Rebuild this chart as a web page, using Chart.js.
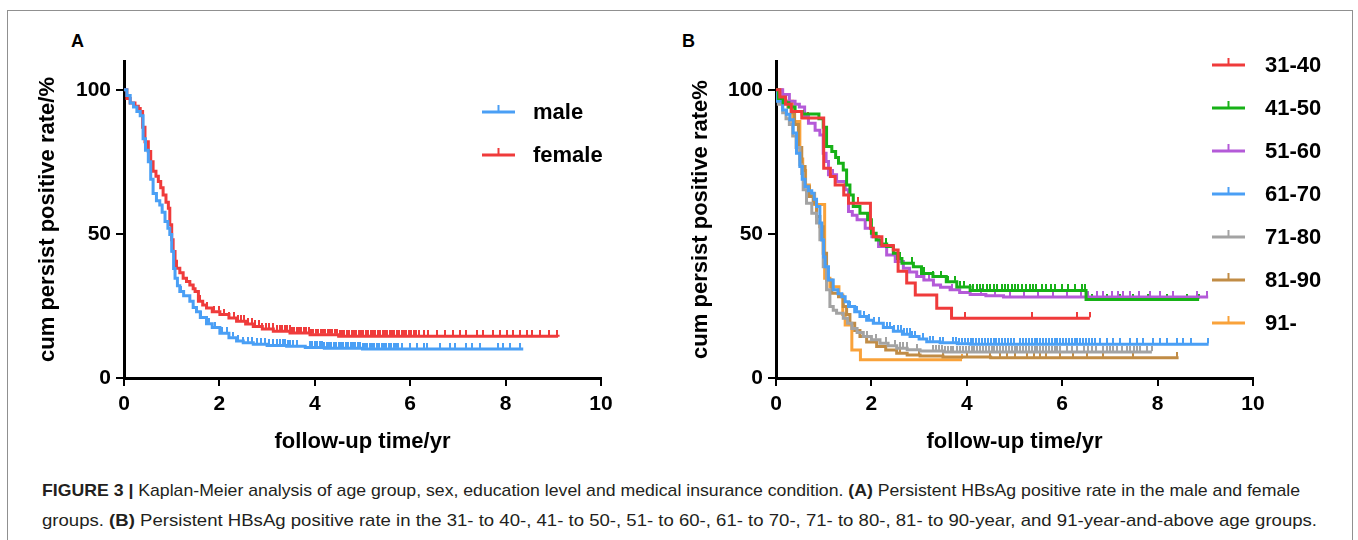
<!DOCTYPE html>
<html>
<head>
<meta charset="utf-8">
<script src="https://cdn.jsdelivr.net/npm/chart.js@4.4.1/dist/chart.umd.min.js"></script>
<style>
  html, body { margin: 0; padding: 0; background: #fff; }
  body { width: 1358px; height: 540px; position: relative; overflow: hidden; font-family: 'Liberation Sans', Arial, sans-serif; }
  #frame { position: absolute; left: 7px; top: 10px; width: 1346px; height: 540px; border: 1.5px solid #909090; box-sizing: border-box; }
  canvas { position: absolute; top: 0; }
  .panel { position: absolute; font-weight: bold; font-size: 18px; color: #000; }
  .cap { position: absolute; left: 42px; white-space: nowrap; font-family: 'Liberation Sans Narrow', 'Liberation Sans', Arial, sans-serif; font-size: 17px; color: #231f20; transform-origin: 0 50%; }
</style>
</head>
<body>
<div id="frame"></div>
<div class="panel" style="left:71px; top:31px">A</div>
<div class="panel" style="left:682px; top:31px">B</div>
<canvas id="chartA" width="680" height="470" style="left:0"></canvas>
<canvas id="chartB" width="678" height="470" style="left:680px"></canvas>
<div class="cap" id="cap1" style="top:481px"><b>FIGURE 3 |</b> Kaplan-Meier analysis of age group, sex, education level and medical insurance condition. <b>(A)</b> Persistent HBsAg positive rate in the male and female</div>
<div class="cap" id="cap2" style="top:511px">groups. <b>(B)</b> Persistent HBsAg positive rate in the 31- to 40-, 41- to 50-, 51- to 60-, 61- to 70-, 71- to 80-, 81- to 90-year, and 91-year-and-above age groups.</div>
<script>
const FONT = "'Liberation Sans', Arial, sans-serif";

// ---- panel A: sex ----
const maleTime = [0, 0.06, 0.13, 0.2, 0.27, 0.34, 0.4, 0.45, 0.51, 0.56, 0.61, 0.68, 0.75, 0.8, 0.86, 0.92, 0.96, 1.0, 1.04, 1.07, 1.12, 1.17, 1.25, 1.38, 1.45, 1.52, 1.6, 1.73, 1.85, 2.01, 2.2, 2.36, 2.5, 2.71, 3.0, 3.41, 3.8, 4.2, 5.0, 8.37];
const maleRate = [100, 98, 95.4, 94, 92.5, 91, 83, 79, 75, 69, 64, 61.5, 60, 57.5, 54.3, 52, 49.8, 44, 38, 34.6, 32, 30, 28.5, 26.6, 24.5, 23, 21, 18.8, 17.5, 15.5, 14, 12.8, 12.2, 11.7, 11.3, 11, 10.6, 10.3, 10.1, 10.1];
const maleCensor = [1.2, 1.45, 1.62, 1.78, 1.9, 2.05, 2.15, 2.28, 2.4, 2.5, 2.6, 2.68, 2.78, 2.88, 2.95, 3.05, 3.12, 3.2, 3.28, 3.33, 3.38, 3.43, 3.48, 3.55, 3.62, 3.9, 3.95, 4.0, 4.05, 4.1, 4.15, 4.2, 4.25, 4.3, 4.35, 4.4, 4.45, 4.5, 4.55, 4.6, 4.65, 4.7, 4.75, 4.8, 4.85, 4.9, 4.95, 5.0, 5.05, 5.1, 5.15, 5.2, 5.25, 5.3, 5.35, 5.4, 5.45, 5.5, 5.55, 5.6, 5.65, 5.7, 5.75, 5.82, 5.99, 6.14, 6.28, 6.35, 6.62, 6.83, 6.94, 7.18, 7.29, 7.46, 7.84, 7.95, 8.09, 8.3];

const femaleTime = [0, 0.06, 0.13, 0.23, 0.3, 0.34, 0.39, 0.44, 0.51, 0.56, 0.61, 0.67, 0.72, 0.77, 0.82, 0.88, 0.93, 0.96, 1.0, 1.03, 1.07, 1.1, 1.17, 1.24, 1.31, 1.38, 1.45, 1.49, 1.56, 1.65, 1.73, 1.85, 2.01, 2.2, 2.36, 2.55, 2.71, 2.9, 3.13, 3.48, 3.9, 4.5, 9.1];
const femaleRate = [100, 97, 95.4, 94.3, 93.5, 92.5, 87, 82, 78.6, 75, 71.7, 70, 68.2, 66, 63.5, 61, 58.9, 53.2, 48, 43.9, 40.5, 38.1, 36.5, 34.6, 33.5, 32.3, 31, 30, 26.6, 25.3, 24.3, 23, 22, 20.8, 19.7, 18.7, 17.9, 17, 16.2, 15.6, 15, 14.5, 14.3];
const femaleCensor = [1.6, 1.75, 1.88, 2.0, 2.1, 2.2, 2.3, 2.38, 2.45, 2.52, 2.6, 2.68, 2.75, 2.82, 2.9, 2.98, 3.05, 3.12, 3.2, 3.27, 3.32, 3.37, 3.42, 3.47, 3.52, 3.57, 3.62, 3.67, 3.72, 3.77, 3.82, 3.87, 3.92, 3.97, 4.02, 4.07, 4.12, 4.17, 4.22, 4.27, 4.32, 4.37, 4.42, 4.47, 4.52, 4.57, 4.62, 4.67, 4.72, 4.77, 4.82, 4.87, 4.92, 4.97, 5.02, 5.07, 5.12, 5.17, 5.22, 5.27, 5.32, 5.37, 5.42, 5.47, 5.52, 5.57, 5.62, 5.67, 5.72, 5.77, 5.82, 5.87, 5.92, 5.97, 6.02, 6.07, 6.12, 6.18, 6.28, 6.38, 6.56, 6.73, 6.9, 7.04, 7.18, 7.39, 7.53, 7.74, 7.88, 8.02, 8.16, 8.3, 8.44, 8.55, 8.72, 8.9, 9.07];

// ---- panel B: age groups ----
const ageLabels = ['31-40', '41-50', '51-60', '61-70', '71-80', '81-90', '91-'];
const ageColors = ['#ef3b3b', '#17b117', '#b45ad8', '#4a9ff5', '#a3a3a3', '#c18c45', '#f9a23a'];

const t3140 = [0, 0.08, 0.2, 0.32, 0.54, 1.0, 1.14, 1.24, 1.42, 1.52, 1.98, 2.04, 2.22, 2.46, 2.56, 2.74, 2.92, 3.37, 3.68, 6.58];
const r3140 = [100, 97.5, 95, 92.5, 90.2, 72.8, 69.9, 67, 63.5, 60.6, 52, 49, 46, 44.4, 37, 33, 28.8, 24.2, 20.7, 20.7];
const c3140 = [0.67, 1.62, 1.72, 3.96, 5.36, 6.3, 6.58];

const t4150 = [0, 0.05, 0.15, 0.27, 0.4, 0.55, 0.9, 0.99, 1.06, 1.17, 1.25, 1.31, 1.41, 1.48, 1.55, 1.62, 1.76, 1.92, 2.0, 2.1, 2.2, 2.32, 2.46, 2.55, 2.64, 2.88, 3.05, 3.29, 3.57, 3.79, 4.07, 6.5, 8.87];
const r4150 = [100, 97, 95.5, 94, 92.5, 91.6, 90, 87, 80.3, 78.6, 76.5, 74.5, 72.2, 67, 63.5, 59.5, 57.2, 54.9, 50.2, 47.9, 46.5, 45.6, 43.3, 41.5, 39.8, 38.6, 36.3, 35.2, 33.4, 31.6, 30.4, 27.2, 27.2];
const c4150 = [2.3, 2.6, 2.85, 3.1, 3.3, 3.45, 3.6, 3.75, 3.85, 3.95, 4.07, 4.14, 4.21, 4.28, 4.35, 4.42, 4.49, 4.56, 4.63, 4.73, 4.8, 4.87, 4.94, 5.01, 5.08, 5.15, 5.25, 5.32, 5.39, 5.46, 5.57, 5.67, 5.76, 5.85, 5.99, 6.13, 6.27, 6.41, 6.47, 6.62, 6.93, 7.21, 7.49, 7.8, 8.19, 8.61, 8.87];

const t5160 = [0, 0.14, 0.28, 0.4, 0.49, 0.6, 0.68, 0.82, 0.92, 0.99, 1.05, 1.1, 1.27, 1.45, 1.52, 1.6, 1.7, 1.87, 2.01, 2.15, 2.32, 2.5, 2.67, 2.8, 2.95, 3.1, 3.3, 3.45, 3.65, 3.85, 4.07, 4.4, 4.77, 9.06];
const r5160 = [100, 98.4, 96, 95, 94, 91, 88.4, 86, 84.3, 78, 75.1, 70.5, 68.2, 65.3, 57.8, 56.5, 54.9, 52, 49, 45.6, 42.7, 40.4, 38.1, 36.8, 35.2, 34, 32.3, 31.5, 30.6, 29.7, 29, 28.5, 28.1, 28.1];
const c5160 = [1.2, 2.6, 3.2, 3.7, 4.3, 4.6, 4.9, 5.2, 5.5, 5.8, 6.1, 6.4, 6.55, 6.72, 6.86, 7.04, 7.18, 7.28, 7.42, 7.6, 7.84, 8.05, 8.33, 8.82, 9.03];

const t6170 = [0, 0.02, 0.14, 0.22, 0.29, 0.36, 0.43, 0.5, 0.55, 0.61, 0.68, 0.75, 0.8, 0.85, 0.92, 0.96, 1.0, 1.03, 1.1, 1.2, 1.3, 1.38, 1.45, 1.52, 1.65, 1.76, 1.9, 2.04, 2.25, 2.46, 2.65, 2.81, 3.0, 3.16, 3.44, 3.8, 4.07, 9.07];
const r6170 = [100, 96, 93, 91.5, 89.6, 85, 78, 73.4, 69, 66.4, 65, 64.1, 62, 59.5, 53.8, 47.9, 42, 38.6, 34, 30.6, 29.2, 28.2, 26.5, 24.8, 23, 21.3, 20, 19, 17.5, 16.2, 15.2, 14.4, 13.5, 12.6, 12.2, 11.9, 11.7, 11.7];
const c6170 = [1.55, 1.7, 1.85, 1.95, 2.05, 2.15, 2.25, 2.32, 2.4, 2.48, 2.55, 2.62, 2.68, 2.74, 2.8, 2.86, 2.92, 3.09, 3.23, 3.3, 3.44, 3.51, 3.72, 3.78, 3.84, 3.9, 3.96, 4.02, 4.08, 4.14, 4.2, 4.26, 4.32, 4.38, 4.44, 4.5, 4.56, 4.62, 4.68, 4.74, 4.8, 4.86, 4.92, 4.98, 5.12, 5.18, 5.24, 5.3, 5.36, 5.42, 5.48, 5.54, 5.6, 5.66, 5.72, 5.78, 5.84, 5.9, 5.96, 6.02, 6.08, 6.14, 6.2, 6.26, 6.32, 6.38, 6.44, 6.5, 6.56, 6.62, 6.68, 6.79, 6.93, 7.07, 7.21, 7.42, 7.56, 7.7, 7.91, 8.05, 8.19, 8.4, 8.54, 8.71, 9.06];

const t7180 = [0, 0.05, 0.14, 0.21, 0.28, 0.35, 0.42, 0.5, 0.54, 0.57, 0.64, 0.75, 0.85, 0.92, 0.99, 1.06, 1.13, 1.2, 1.27, 1.41, 1.5, 1.59, 1.7, 1.83, 2.0, 2.18, 2.35, 2.53, 2.75, 3.02, 3.51, 7.88];
const r7180 = [100, 95, 92, 90, 88, 84, 80, 74, 71, 65.3, 60.6, 57.2, 53.8, 48, 38.6, 30.6, 24.8, 23.5, 22.5, 20.7, 19, 17.2, 15.8, 14.4, 13.3, 12.1, 11.2, 10.3, 9.8, 9.4, 9.0, 9.0];
const c7180 = [1.9, 2.1, 2.3, 2.5, 2.6, 2.67, 2.74, 2.95, 3.3, 3.36, 3.42, 3.48, 3.54, 3.6, 3.66, 3.72, 3.8, 3.86, 3.92, 3.98, 4.04, 4.1, 4.16, 4.22, 4.28, 4.34, 4.4, 4.46, 4.52, 4.58, 4.64, 4.7, 4.76, 4.82, 4.88, 4.94, 5.0, 5.06, 5.12, 5.18, 5.24, 5.3, 5.36, 5.42, 5.48, 5.54, 5.6, 5.66, 5.72, 5.78, 5.84, 5.9, 5.96, 6.1, 6.2, 6.3, 6.45, 6.55, 6.62, 6.7, 6.85, 6.93, 7.0, 7.07, 7.15, 7.25, 7.35, 7.42, 7.5, 7.56, 7.63, 7.77, 7.88];

const t8190 = [0, 0.05, 0.14, 0.25, 0.32, 0.39, 0.47, 0.54, 0.61, 0.7, 0.78, 0.85, 0.92, 0.99, 1.06, 1.17, 1.31, 1.41, 1.48, 1.55, 1.65, 1.76, 1.9, 2.11, 2.3, 2.53, 2.75, 3.02, 3.5, 4.5, 8.44];
const r8190 = [100, 97, 96, 94, 92, 88, 80, 73.4, 66.4, 63, 60.6, 56, 52.5, 43.3, 34, 29.4, 28.2, 24.8, 22, 19, 16.5, 14.4, 12.5, 10.9, 9.7, 8.6, 8, 7.6, 7.3, 7.0, 7.0];
const c8190 = [2.6, 3.0, 3.5, 4.0, 4.49, 4.7, 4.84, 5.01, 5.26, 5.4, 5.54, 5.67, 5.95, 6.23, 6.51, 6.86, 7.49, 8.4];

const t91 = [0, 0.12, 0.35, 0.5, 0.56, 0.62, 0.7, 0.81, 1.02, 1.13, 1.32, 1.4, 1.45, 1.59, 1.77, 3.9];
const r91 = [100, 96, 89, 76, 72, 67, 64, 60.2, 34.6, 31.7, 28.8, 22, 18.4, 9.7, 6.3, 6.3];
const c91 = [3.9];

// value of the step curve at time t (censor marks sit on the curve)
function stepAt(times, rates, t) {
  let v = rates[0];
  for (let i = 0; i < times.length; i++) {
    if (times[i] <= t) v = rates[i]; else break;
  }
  return v;
}

// small upward tick used as the censor mark
function tickImage(color) {
  const c = document.createElement('canvas');
  c.width = 2; c.height = 12;
  const g = c.getContext('2d');
  g.fillStyle = color;
  g.fillRect(0, 0, 2, 5);
  return c;
}

function kmSeries(label, color, times, rates, censor) {
  const curve = {
    label, km: true,
    data: times.map((t, i) => ({ x: t, y: rates[i] })),
    borderColor: color, borderWidth: 3, stepped: true,
    pointRadius: 0, fill: false
  };
  const marks = {
    label: label + ' censored',
    data: censor.map(t => ({ x: t, y: stepAt(times, rates, t) })),
    showLine: false, pointStyle: tickImage(color), pointRadius: 3,
    borderColor: color, backgroundColor: color
  };
  return [curve, marks];
}

const kmLegend = {
  id: 'kmLegend',
  afterDraw(chart, args, o) {
    const ctx = chart.ctx;
    const sets = chart.data.datasets.filter(d => d.km);
    ctx.save();
    ctx.font = 'bold 22px ' + FONT;
    ctx.textBaseline = 'middle';
    sets.forEach((d, i) => {
      const y = o.y + i * o.gap;
      ctx.strokeStyle = d.borderColor;
      ctx.lineWidth = 3;
      ctx.beginPath();
      ctx.moveTo(o.x, y); ctx.lineTo(o.x + o.len, y);
      ctx.stroke();
      ctx.lineWidth = 2;
      ctx.beginPath();
      ctx.moveTo(o.x + o.len / 2, y); ctx.lineTo(o.x + o.len / 2, y - 7);
      ctx.stroke();
      ctx.fillStyle = '#000';
      ctx.fillText(d.label, o.textX, y + 1);
    });
    ctx.restore();
  }
};

function axisFont(size) {
  return { family: FONT, size, weight: 'bold' };
}

function makeChart(id, datasets, yTitle, lay) {
  return new Chart(document.getElementById(id), {
    type: 'line',
    data: { datasets },
    options: {
      responsive: false,
      animation: false,
      layout: { padding: { left: 0, top: 61, right: lay.right, bottom: 0 } },
      plugins: { legend: { display: false }, tooltip: { enabled: false }, kmLegend: lay.legend },
      scales: {
        x: {
          type: 'linear', min: 0, max: 10,
          ticks: { stepSize: 2, color: '#000', font: axisFont(21), padding: 6, maxRotation: 0 },
          grid: { drawOnChartArea: false, color: '#000', lineWidth: 2, tickLength: 8 },
          border: { color: '#000', width: 3 },
          title: { display: true, text: 'follow-up time/yr', color: '#000', font: axisFont(22), padding: { top: 0, bottom: 15 } },
          afterFit: s => { s.height = 92; }
        },
        y: {
          type: 'linear', min: 0, max: 110,
          ticks: { stepSize: 50, includeBounds: false, color: '#000', font: axisFont(21), padding: 5 },
          grid: { drawOnChartArea: false, color: '#000', lineWidth: 2, tickLength: 8 },
          border: { color: '#000', width: 3 },
          title: { display: true, text: yTitle, color: '#000', font: axisFont(22), padding: { top: lay.yTitlePad, bottom: 0 } },
          afterFit: s => { s.width = lay.yWidth; }
        }
      }
    },
    plugins: [kmLegend]
  });
}

const setsA = [
  ...kmSeries('male', '#4a9ff5', maleTime, maleRate, maleCensor),
  ...kmSeries('female', '#ef3b3b', femaleTime, femaleRate, femaleCensor)
];
makeChart('chartA', [...setsA.filter(d => d.km), ...setsA.filter(d => !d.km)],
  'cum persist positive rate/%',
  { right: 79, yWidth: 124, yTitlePad: 35, legend: { x: 482, y: 112, gap: 43, len: 33, textX: 533 } });

const ageTimes = [t3140, t4150, t5160, t6170, t7180, t8190, t91];
const ageRates = [r3140, r4150, r5160, r6170, r7180, r8190, r91];
const ageCensor = [c3140, c4150, c5160, c6170, c7180, c8190, c91];
const setsB = ageLabels.flatMap((lab, i) => kmSeries(lab, ageColors[i], ageTimes[i], ageRates[i], ageCensor[i]));
makeChart('chartB', [...setsB.filter(d => d.km), ...setsB.filter(d => !d.km)],
  'cum persist positive rate%',
  { right: 105, yWidth: 96, yTitlePad: 8, legend: { x: 532, y: 65, gap: 43, len: 33, textX: 585 } });

// caption lines stretched to the width they take in the figure
[['cap1', 1258], ['cap2', 1275]].forEach(([id, w]) => {
  const el = document.getElementById(id);
  const k = w / el.getBoundingClientRect().width;
  el.style.transform = 'scaleX(' + k + ')';
});
</script>
</body>
</html>
